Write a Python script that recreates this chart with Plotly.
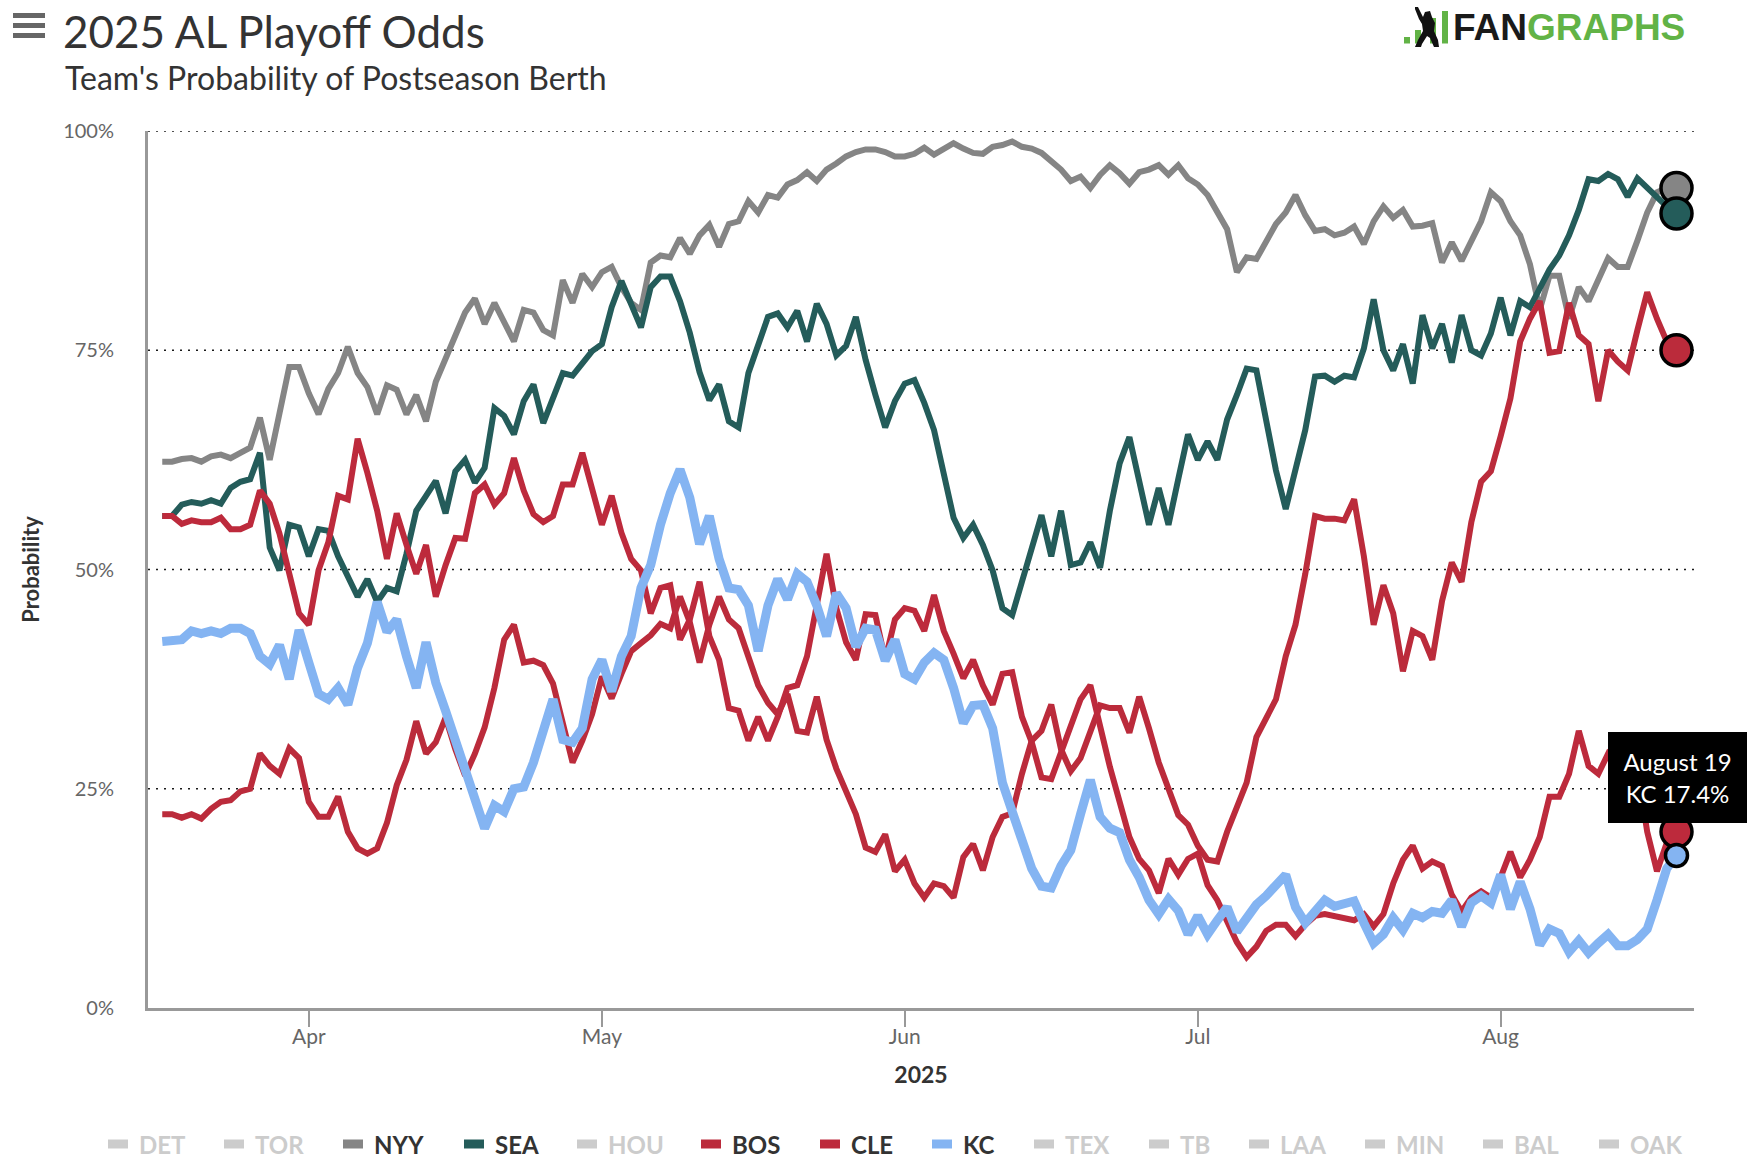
import plotly.graph_objects as go
import pandas as pd

# ---------------- data ----------------
START_DATE = "2025-03-17"
END_DATE = "2025-08-19"
DATES = pd.date_range(START_DATE, END_DATE, freq="D")

NYY = [62.3, 62.3, 62.6, 62.7, 62.3, 62.9, 63.1, 62.7, 63.3, 63.9, 67.3, 62.5, 67.8, 73.1, 73.1,
       70.1, 67.7, 70.6, 72.4, 75.4, 72.4, 70.8, 67.7, 71.0, 70.5, 67.7, 69.9, 66.9, 71.4, 73.9,
       76.5, 79.3, 80.9, 78.0, 80.4, 78.0, 76.0, 79.6, 79.3, 77.3, 76.7, 83.0, 80.4, 83.7, 82.2,
       83.9, 84.5, 82.2, 80.4, 79.6, 85.0, 85.8, 85.6, 87.8, 86.0, 88.1, 89.3, 86.8, 89.4, 89.7,
       92.0, 90.7, 92.7, 92.4, 93.9, 94.4, 95.3, 94.3, 95.6, 96.3, 97.1, 97.6, 97.9, 97.9, 97.6, 97.1,
       97.1, 97.4, 98.1, 97.3, 98.0, 98.6, 98.0, 97.5, 97.4, 98.2, 98.4, 98.8, 98.2, 98.0, 97.5,
       96.5, 95.6, 94.3, 94.8, 93.5, 95.0, 96.1, 95.2, 94.0, 95.3, 95.6, 96.1, 95.0, 96.1, 94.6,
       93.9, 92.7, 90.8, 88.8, 83.9, 85.6, 85.4, 87.3, 89.4, 90.7, 92.7, 90.4, 88.6, 88.8, 88.1,
       88.4, 89.1, 87.1, 89.7, 91.4, 90.1, 91.0, 89.1, 89.2, 89.5, 85.0, 87.3, 85.2, 87.6, 89.7, 93.0,
       92.0, 89.7, 88.1, 84.8, 79.6, 83.5, 83.5, 78.6, 82.2, 80.6, 82.9, 85.5, 84.5, 84.5, 87.5,
       90.7, 93.0, 93.5, 93.5]

SEA = [56.1, 56.1, 57.4, 57.7, 57.5, 57.9, 57.5, 59.3, 60.0, 60.3, 63.3, 52.5, 49.9, 55.1, 54.8,
       51.5, 54.6, 54.4, 51.5, 49.2, 46.9, 48.9, 46.3, 47.9, 47.5, 51.8, 56.7, 58.4, 60.1, 56.4,
       61.2, 62.5, 59.9, 61.6, 68.4, 67.5, 65.4, 69.2, 71.1, 66.7, 69.5, 72.4, 72.1, 73.6, 74.9,
       75.7, 79.9, 82.9, 80.3, 77.6, 82.2, 83.4, 83.4, 80.6, 77.0, 72.5, 69.3, 71.1, 66.9, 66.2,
       72.4, 75.4, 78.8, 79.2, 77.6, 79.5, 76.0, 80.3, 78.0, 74.4, 75.5, 78.8, 73.9, 69.9, 66.2, 69.2,
       71.2, 71.6, 69.0, 65.9, 61.2, 55.9, 53.6, 55.1, 52.8, 49.9, 45.6, 44.8, 48.6, 52.5, 56.2,
       51.5, 56.7, 50.5, 50.8, 53.1, 50.2, 56.7, 62.1, 65.1, 60.3, 55.1, 59.3, 55.1, 60.3, 65.4,
       62.5, 64.6, 62.5, 67.1, 69.9, 72.9, 72.7, 67.2, 61.3, 56.9, 61.3, 65.9, 72.0, 72.1, 71.4,
       72.1, 71.9, 75.2, 80.8, 75.0, 72.7, 75.7, 71.2, 79.0, 75.2, 78.0, 73.6, 79.0, 75.0, 74.4, 76.9,
       81.0, 76.7, 80.6, 79.9, 81.9, 84.2, 85.8, 88.1, 91.0, 94.5, 94.3, 95.1, 94.5, 92.5, 94.6,
       93.5, 92.5, 91.4, 90.6]

BOS = [22.1, 22.1, 21.7, 22.1, 21.6, 22.7, 23.5, 23.7, 24.7, 25.0, 29.0, 27.6, 26.7, 29.6, 28.5,
       23.5, 21.8, 21.8, 24.1, 20.1, 18.2, 17.6, 18.2, 21.1, 25.4, 28.3, 32.7, 29.0, 30.3, 33.1,
       29.5, 26.5, 29.0, 32.0, 36.5, 42.0, 43.7, 39.4, 39.6, 39.1, 37.0, 32.5, 28.0, 30.5, 33.5,
       37.8, 35.3, 38.1, 40.7, 41.6, 42.5, 43.8, 43.3, 46.9, 44.0, 39.4, 43.7, 46.9, 44.3, 43.3,
       40.1, 36.8, 34.8, 33.5, 35.8, 31.6, 31.4, 35.5, 30.6, 27.3, 24.7, 22.1, 18.3, 17.8, 19.8, 15.6,
       16.9, 14.2, 12.6, 14.2, 13.9, 12.6, 17.2, 18.7, 15.7, 19.5, 21.8, 22.2, 26.7, 30.5, 31.6,
       34.6, 29.5, 27.0, 28.5, 31.5, 34.5, 34.2, 34.2, 31.4, 35.5, 31.9, 28.0, 25.0, 22.0, 20.9,
       18.5, 16.9, 16.7, 20.1, 23.1, 25.7, 30.9, 32.9, 35.2, 40.1, 43.7, 49.5, 56.1, 55.8, 55.8,
       55.6, 58.0, 51.5, 43.7, 48.2, 45.0, 38.4, 43.0, 42.4, 39.7, 46.4, 50.8, 48.6, 55.4, 60.0, 61.2,
       65.2, 69.5, 76.0, 78.6, 80.6, 74.7, 74.9, 80.4, 76.7, 75.7, 69.2, 75.0, 73.7, 72.7, 77.3,
       81.6, 78.6, 76.0, 75.0]

CLE = [56.1, 56.1, 55.2, 55.6, 55.4, 55.4, 55.9, 54.6, 54.6, 55.1, 59.0, 57.5, 54.1, 49.5, 45.0,
       43.7, 49.9, 53.1, 58.4, 58.0, 64.9, 61.0, 56.7, 51.2, 56.4, 52.8, 49.5, 52.8, 46.9, 50.5,
       53.6, 53.5, 58.7, 59.7, 57.4, 58.7, 62.7, 59.0, 56.3, 55.4, 56.1, 59.7, 59.7, 63.3, 59.0,
       55.1, 58.4, 54.2, 51.2, 49.9, 45.0, 47.9, 48.2, 42.0, 44.3, 48.6, 42.4, 39.7, 34.2, 33.9,
       30.5, 33.2, 30.5, 33.2, 36.5, 36.8, 40.1, 46.3, 51.8, 45.6, 41.7, 39.7, 44.9, 44.8, 39.7, 44.3,
       45.6, 45.3, 43.0, 47.1, 43.0, 40.4, 37.6, 39.7, 36.8, 34.6, 38.1, 38.3, 33.2, 30.3, 26.3,
       26.1, 29.3, 32.5, 35.2, 36.8, 32.0, 27.5, 23.5, 19.5, 17.0, 15.7, 13.1, 17.0, 15.2, 17.0,
       17.6, 14.0, 12.3, 10.0, 7.5, 5.8, 7.0, 8.8, 9.5, 9.5, 8.2, 9.5, 10.5, 10.7, 10.5,
       10.3, 10.0, 10.7, 9.3, 10.7, 14.2, 16.9, 18.5, 15.9, 16.7, 16.2, 12.9, 11.0, 12.6, 13.3, 12.6,
       14.9, 17.8, 14.9, 16.9, 19.5, 24.1, 24.1, 26.7, 31.6, 27.6, 26.7, 29.0, 28.0, 28.6, 27.3,
       20.1, 15.6, 18.8, 20.1]

KC = [41.8, 41.8, 42.0, 43.0, 42.7, 43.0, 42.7, 43.3, 43.3, 42.7, 40.1, 39.2, 41.4, 37.5, 43.1,
      39.4, 35.8, 35.2, 36.5, 34.6, 38.8, 41.6, 46.3, 42.9, 44.3, 40.1, 36.5, 41.7, 37.1, 33.9,
      30.6, 27.3, 24.1, 20.5, 23.1, 22.4, 25.0, 25.2, 28.0, 31.4, 35.2, 30.6, 30.3, 31.9, 37.5,
      39.7, 36.1, 40.1, 42.4, 47.9, 50.5, 55.1, 58.7, 61.4, 58.2, 52.9, 56.1, 51.2, 47.9, 47.7,
      45.9, 40.7, 45.9, 48.9, 46.6, 49.5, 48.6, 45.9, 42.4, 47.3, 45.6, 41.2, 43.3, 43.1, 39.6, 42.0,
      38.1, 37.5, 39.4, 40.5, 39.7, 36.5, 32.5, 34.5, 34.6, 31.9, 25.7, 22.4, 19.2, 15.9, 13.9,
      13.7, 16.2, 18.0, 22.1, 26.0, 21.8, 20.5, 20.0, 16.9, 14.9, 12.3, 10.7, 12.4, 11.1, 8.4,
      10.5, 8.4, 10.0, 11.5, 8.7, 10.2, 11.8, 12.8, 14.2, 15.2, 11.5, 9.7, 11.0, 12.3, 11.6,
      12.0, 12.2, 9.7, 7.4, 8.4, 10.3, 8.9, 10.8, 10.3, 11.0, 10.8, 12.3, 9.3, 12.0, 12.8, 12.0,
      15.2, 11.3, 14.4, 11.3, 7.2, 9.0, 8.5, 6.4, 7.7, 6.3, 7.4, 8.4, 7.1, 7.1, 7.8,
      9.0, 12.3, 15.9, 17.4]

MONTH_TICKS = ["2025-04-01", "2025-05-01", "2025-06-01", "2025-07-01", "2025-08-01"]
MONTH_LABELS = ["Apr", "May", "Jun", "Jul", "Aug"]
Y_TICKS = [0, 25, 50, 75, 100]
Y_LABELS = ["0%", "25%", "50%", "75%", "100%"]
LEGEND_TEAMS = ["DET", "TOR", "NYY", "SEA", "HOU", "BOS", "CLE", "KC",
                "TEX", "TB", "LAA", "MIN", "BAL", "OAK"]
HOVER_TEAM = "KC"

SERIES = {"NYY": NYY, "SEA": SEA, "BOS": BOS, "CLE": CLE, "KC": KC}
for _k, _v in SERIES.items():
    assert len(_v) == len(DATES), (_k, len(_v))

# ---------------- styles / layout ----------------
COLORS = {"NYY": "#858585", "SEA": "#245C5A", "BOS": "#BB2B3B",
          "CLE": "#BD2A3C", "KC": "#84B4F2"}
INACTIVE = "#CCCCCC"
FONT = "Lato"
W, H = 1748, 1162
M = dict(l=148, r=54, t=131, b=154)
PW = W - M["l"] - M["r"]
PH = H - M["t"] - M["b"]


def pxx(px):
    return (px - M["l"]) / PW


def pxy(py):
    return (H - M["b"] - py) / PH


fig = go.Figure()

for team, vals in SERIES.items():
    hovered = team == HOVER_TEAM
    fig.add_trace(go.Scatter(
        x=DATES, y=vals, mode="lines", name=team, showlegend=False,
        hoverinfo="skip",
        line=dict(color=COLORS[team], width=9 if hovered else 6)))
    fig.add_trace(go.Scatter(
        x=[DATES[-1]], y=[vals[-1]], mode="markers", name=team, showlegend=False,
        hoverinfo="skip", cliponaxis=False,
        marker=dict(size=22 if hovered else 31, color=COLORS[team],
                    line=dict(color="black", width=3.5))))

shapes = []
# dotted horizontal grid
for v in Y_TICKS[1:]:
    shapes.append(dict(type="line", xref="paper", x0=0, x1=1, yref="y", y0=v, y1=v,
                       line=dict(color="#1a1a1a", width=1.6, dash="2px,6px"), layer="below"))

# hamburger menu icon
for top in (13, 23, 33):
    shapes.append(dict(type="rect", xref="paper", yref="paper",
                       x0=pxx(13), x1=pxx(45), y0=pxy(top + 5), y1=pxy(top),
                       fillcolor="#666666", line=dict(width=0)))

# logo bars
LOGO_GREEN = "#62B346"
for x0, x1, top in ((1404, 1410, 37), (1415, 1421, 30), (1430, 1436, 18), (1442, 1448, 11)):
    shapes.append(dict(type="rect", xref="paper", yref="paper",
                       x0=pxx(x0), x1=pxx(x1), y0=pxy(43.5), y1=pxy(top),
                       fillcolor=LOGO_GREEN, line=dict(width=0)))
# batter silhouette
batter = [(1415, 7), (1418, 7), (1423, 17), (1425, 12), (1430, 11), (1432, 17), (1435, 23),
          (1434, 31), (1438, 40), (1439, 47), (1434, 47), (1430, 38), (1427, 36), (1422, 44),
          (1421, 47), (1415, 47), (1418, 40), (1423, 31), (1422, 24), (1419, 19), (1415, 9)]
path = "M " + " L ".join(f"{pxx(a):.5f},{pxy(b):.5f}" for a, b in batter) + " Z"
shapes.append(dict(type="path", xref="paper", yref="paper", path=path,
                   fillcolor="#111111", line=dict(width=0)))

annotations = []
annotations.append(dict(
    text="Team's Probability of Postseason Berth", xref="paper", yref="paper",
    x=pxx(63), y=pxy(77), xanchor="left", yanchor="middle", showarrow=False,
    font=dict(family=FONT, size=32, color="#333333")))
annotations.append(dict(
    text="<span style='color:#1a1a1a'>FAN</span><span style='color:%s'>GRAPHS</span>" % LOGO_GREEN,
    xref="paper", yref="paper", x=pxx(1451), y=pxy(28), xanchor="left", yanchor="middle",
    showarrow=False, font=dict(family="Liberation Sans", size=37, weight=700)))

# legend (Highcharts-style row)
LEGEND_X = [108, 224, 343, 464, 577, 701, 820, 932, 1034, 1149, 1249, 1365, 1483, 1599]
LEGEND_Y = 1144
for team, lx in zip(LEGEND_TEAMS, LEGEND_X):
    active = team in SERIES
    col = COLORS[team] if active else INACTIVE
    shapes.append(dict(type="rect", xref="paper", yref="paper",
                       x0=pxx(lx), x1=pxx(lx + 20), y0=pxy(LEGEND_Y + 4.5), y1=pxy(LEGEND_Y - 4.5),
                       fillcolor=col, line=dict(width=0)))
    annotations.append(dict(
        text=team, xref="paper", yref="paper", x=pxx(lx + 29), y=pxy(LEGEND_Y),
        xanchor="left", yanchor="middle", showarrow=False,
        font=dict(family=FONT, size=24, weight=700, color="#333333" if active else INACTIVE)))

# tooltip for hovered point
last = DATES[-1]
tip = f"{last:%B} {last.day}<br>{HOVER_TEAM} {SERIES[HOVER_TEAM][-1]:.1f}%"
annotations.append(dict(
    text=tip, xref="paper", yref="paper", x=pxx(1677.5), y=pxy(777.5),
    xanchor="center", yanchor="middle", showarrow=False, width=139, height=91,
    bgcolor="#000000", borderpad=0, borderwidth=0, align="center", valign="middle",
    font=dict(family=FONT, size=24, color="white")))

fig.update_layout(
    width=W, height=H, margin=M, paper_bgcolor="white", plot_bgcolor="white",
    showlegend=False, font=dict(family=FONT, color="#333333"),
    title=dict(text="2025 AL Playoff Odds", xref="container", yref="container",
               x=63 / W, xanchor="left", y=1 - 33 / H, yanchor="middle",
               font=dict(family=FONT, size=44, color="#333333")),
    xaxis=dict(type="date", range=["2025-03-15 13:00", "2025-08-20 19:00"],
               tickvals=MONTH_TICKS, ticktext=MONTH_LABELS,
               ticks="outside", ticklen=16, tickwidth=1.5, tickcolor="#999999",
               ticklabelstandoff=-8,
               showline=True, linecolor="#999999", linewidth=3,
               showgrid=False, zeroline=False,
               tickfont=dict(family=FONT, size=21, color="#666666"),
               title=dict(text="2025", standoff=20,
                          font=dict(family=FONT, size=23, weight=700, color="#333333"))),
    yaxis=dict(range=[0, 100], tickvals=Y_TICKS, ticktext=Y_LABELS,
               ticks="outside", ticklen=27, tickcolor="rgba(0,0,0,0)",
               showline=True, linecolor="#999999", linewidth=3,
               showgrid=False, zeroline=False,
               tickfont=dict(family=FONT, size=20, color="#666666"),
               title=dict(text="Probability", standoff=18,
                          font=dict(family=FONT, size=22, weight=700, color="#333333"))),
    shapes=shapes, annotations=annotations,
)

fig.write_html("out.html", include_plotlyjs=True, full_html=True,
               config={"displayModeBar": False},
               post_script="document.body.style.margin='0';document.body.style.overflow='hidden';")
